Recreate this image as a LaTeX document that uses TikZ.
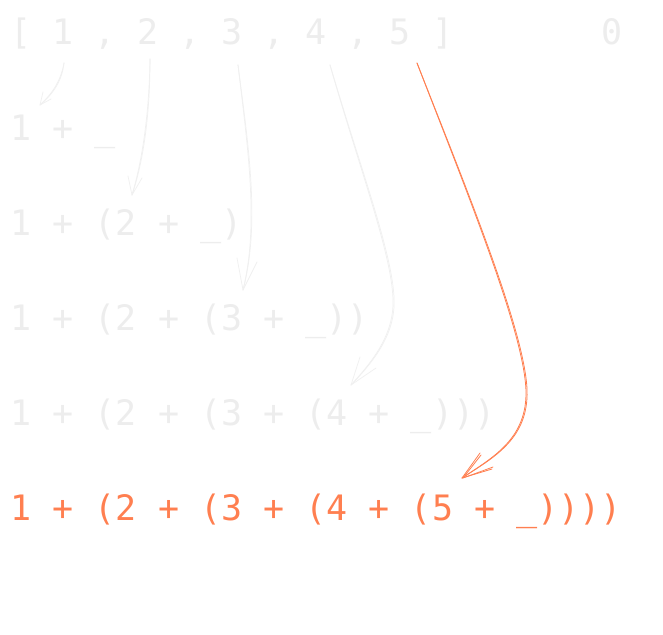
\documentclass[tikz,border=0pt]{standalone}
\usepackage{fontspec}
\setmonofont{DejaVu Sans Mono}
\definecolor{faint}{HTML}{EDEDED}
\definecolor{faintline}{HTML}{F0F0F0}
\definecolor{coral}{HTML}{FF7F50}
\begin{document}
\begin{tikzpicture}[x=1pt,y=-1pt,
  txt/.style={inner sep=0pt,outer sep=0pt,anchor=base west,
    font=\fontsize{35}{42}\selectfont\ttfamily},
  gray/.style={txt,text=faint},
  hot/.style={txt,text=coral},
  sk/.style={line width=0.7pt,line cap=round,line join=round},
  gl/.style={sk,draw=faintline},
  ol/.style={sk,draw=coral,line width=0.8pt}]
\useasboundingbox (0,0) rectangle (663,634);
\fill[white] (0,0) rectangle (663,634);
% rows
\node[gray] (r1) at (10.6,45) {[ 1 , 2 , 3 , 4 , 5 ]};
\node[gray] (zero) at (601.5,45) {0};
\node[gray] (r2) at (10.6,140) {1 + \_};
\node[gray] (r3) at (10.6,235) {1 + (2 + \_)};
\node[gray] (r4) at (10.6,330) {1 + (2 + (3 + \_))};
\node[gray] (r5) at (10.6,425) {1 + (2 + (3 + (4 + \_)))};
\node[hot]  (r6) at (10.6,520) {1 + (2 + (3 + (4 + (5 + \_))))};
% arrow end points
\coordinate (s1) at (64,63);   \coordinate (t1) at (40,105);
\coordinate (s2) at (150,59);  \coordinate (t2) at (132,195);
\coordinate (s3) at (238,65);  \coordinate (t3) at (243,290);
\coordinate (s4) at (330,65);  \coordinate (t4) at (351,385);
\coordinate (s5) at (417,63);  \coordinate (t5) at (462,478);
% sketchy double strokes
\foreach \d in {0,1.1}{
\begin{scope}[xshift=\d pt]
\draw[gl] (s1) .. controls (61,80) and (53,93) .. (t1);
\draw[gl] (s2) .. controls (149,120) and (141,165) .. (t2);
\draw[gl] (s3) .. controls (248,150) and (259,225) .. (t3);
\draw[gl] (s4) .. controls (360,170) and (392,255) .. (393,300)
              .. controls (394,335) and (372,362) .. (t4);
\draw[ol] (s5) .. controls (470,200) and (527,340) .. (526,395)
              .. controls (525,440) and (492,458) .. (t5);
\end{scope}}
% arrow heads
\draw[gl] (43,92) -- (t1) -- (51,99);
\draw[gl] (128,176) -- (t2) -- (142,178);
\draw[gl] (237,258) -- (t3) -- (257,262);
\draw[gl] (360,357) -- (t4) -- (376,368);
\draw[ol] (480,453) -- (t5) -- (492,469);
\draw[ol] (481,455) -- ([xshift=1pt]t5) -- (493,467);
\end{tikzpicture}
\end{document}
